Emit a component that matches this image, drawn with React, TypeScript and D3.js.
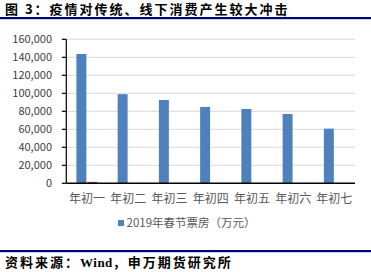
import React from "react";
import * as d3 from "d3";

const categories = ["年初一", "年初二", "年初三", "年初四", "年初五", "年初六", "年初七"];
const series2019 = [143700, 99000, 92500, 84800, 82600, 77000, 60700];
const series2020 = [1600, 0, 0, 0, 0, 0, 0];
const yTicks = [0, 20000, 40000, 60000, 80000, 100000, 120000, 140000, 160000];
const seriesNames = ["2019年春节票房（万元）", "2020年春节票房（万元）"];
const titleText = "图 3：疫情对传统、线下消费产生较大冲击";
const sourcePre = "资料来源：";
const sourceWind = "Wind";
const sourcePost = "，申万期货研究所";

const W = 371;
const H = 272;
const left = 66.3;
const right = 355;
const top = 39.3;
const bottom = 183.3;
const font = "'Noto Sans CJK SC', 'Noto Sans', sans-serif";
const serif = "'Liberation Serif', 'DejaVu Serif', serif";
const colors = ["#4F81BD", "#C0504D"];

export default function App() {
  const x = d3.scaleBand<string>().domain(categories).range([left, right]).paddingInner(0.49).paddingOuter(0.245);
  const inner = d3.scaleBand<number>().domain([0, 1]).range([0, x.bandwidth()]).paddingInner(0.1);
  const y = d3.scaleLinear().domain([0, 160000]).range([bottom, top]);
  const fmt = d3.format(",");
  const seriesData = [series2019, series2020];

  return (
    <svg width={W} height={H} style={{ position: "absolute", left: 0, top: 0, background: "#fff" }}>
      <text x={5} y={14} fontFamily={font} fontWeight="bold" fontSize={13} letterSpacing={2} fill="#000">{titleText}</text>
      <rect x={0} y={17} width={W} height={2.2} fill="#000080" />

      {yTicks.filter((t) => t > 0).map((t) => (
        <line key={"g" + t} x1={left} x2={right} y1={y(t)} y2={y(t)} stroke="#D9D9D9" strokeWidth={1} />
      ))}

      {seriesData.map((s, si) =>
        s.map((v, i) =>
          v > 0 ? (
            <rect
              key={si + "-" + i}
              x={(x(categories[i]) as number) + (inner(si) as number)}
              y={y(v)}
              width={inner.bandwidth()}
              height={bottom - y(v)}
              fill={colors[si]}
            />
          ) : null
        )
      )}

      <line x1={left} x2={left} y1={top} y2={bottom} stroke="#000" strokeWidth={1.2} />
      {yTicks.map((t) => (
        <g key={"t" + t}>
          <line x1={left - 4.5} x2={left} y1={y(t)} y2={y(t)} stroke="#000" strokeWidth={1.2} />
          <text x={52} y={y(t)} dy="0.35em" textAnchor="end" fontFamily={font} fontSize={11} fill="#404040">{fmt(t)}</text>
        </g>
      ))}
      <line x1={left} x2={right} y1={bottom} y2={bottom} stroke="#000" strokeWidth={1.5} />

      {categories.map((c) => (
        <text key={c} x={(x(c) as number) + x.bandwidth() / 2} y={203} textAnchor="middle" fontFamily={font} fontSize={12} fill="#595959">{c}</text>
      ))}

      <rect x={118} y={220} width={6} height={6} fill={colors[0]} />
      <text x={126.5} y={227} fontFamily={font} fontSize={11.5} fill="#595959">{seriesNames[0]}</text>

      <rect x={0} y={250} width={W} height={2.2} fill="#000080" />
      <text x={5} y={267} fontFamily={font} fontWeight="bold" fontSize={13} fill="#000">
        <tspan letterSpacing={2}>{sourcePre}</tspan>
        <tspan fontFamily={serif} letterSpacing={0.5}>{sourceWind}</tspan>
        <tspan letterSpacing={2}>{sourcePost}</tspan>
      </text>
    </svg>
  );
}
